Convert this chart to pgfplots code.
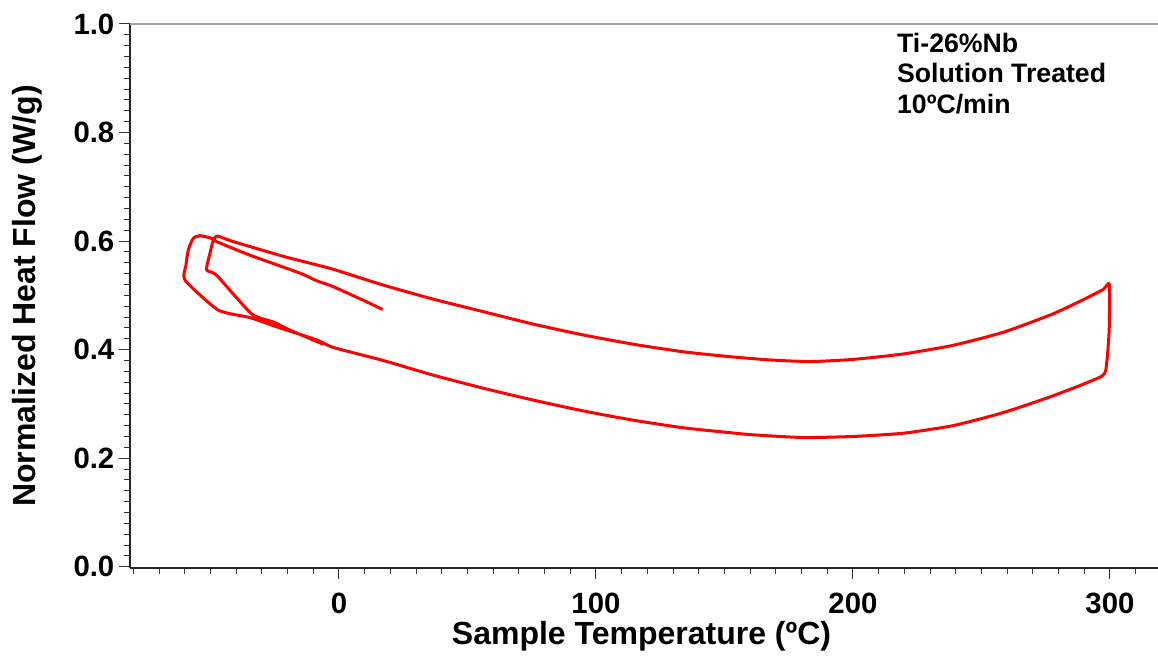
\documentclass[border=0pt]{standalone}
\usepackage{pgfplots}
\pgfplotsset{compat=1.18}
\usepackage{fontspec}
\setmainfont{Liberation Sans}
\begin{document}
\begin{tikzpicture}
\begin{axis}[
  scale only axis, width=771pt, height=408pt,
  xmin=-81.3, xmax=318.7, ymin=-0.0024, ymax=1.0,
  axis lines*=left,
  axis line style={line width=0.9pt, black!85},
  xtick={0,100,200,300},
  ytick={0,0.2,0.4,0.6,0.8,1.0},
  minor xtick={-80,-70,-60,-50,-40,-30,-20,-10,10,20,30,40,50,60,70,80,90,110,120,130,140,150,160,170,180,190,210,220,230,240,250,260,270,280,290,310},
  minor y tick num=9,
  tick align=outside,
  major tick length=8.25pt, minor tick length=4.5pt,
  every tick/.style={black!80, line width=0.75pt},
  yticklabel style={/pgf/number format/.cd, fixed, fixed zerofill, precision=1},
  xticklabel style={yshift=-7pt},
  /pgf/number format/assume math mode=true,
  ticklabel style={font=\fontsize{22}{26}\selectfont\bfseries},
  xlabel={Sample Temperature (ºC)},
  ylabel={Normalized Heat Flow (W/g)},
  label style={font=\fontsize{24}{28}\selectfont\bfseries},
  xlabel style={at={(axis description cs:0.4976,-0.1245)}, anchor=center},
  ylabel style={at={(axis description cs:-0.1002,0.5)}, anchor=center},
]
\addplot[red, line width=2.25pt, line join=round, smooth, tension=0.35] coordinates {
(17.0,0.474) (10.8,0.488) (-2.2,0.516) (-8.7,0.527) (-15.2,0.541) (-34.6,0.574) (-47.6,0.599) (-49.5,0.605) (-54.1,0.610) (-56.7,0.605) (-58.6,0.584) (-59.5,0.556) (-59.9,0.528)
(-47.0,0.473) (-34.6,0.459) (-24.2,0.442) (-8.7,0.418) (-2.2,0.404) (17.2,0.380) (36.7,0.353) (56.1,0.329) (75.6,0.307) (95.1,0.287) (114.5,0.270) (134.0,0.256) (152.1,0.247) (161.2,0.243) (180.7,0.238) (200.1,0.240) (219.6,0.246) (239.0,0.260) (258.5,0.284) (277.9,0.315) (296.8,0.351) (298.7,0.375) (299.7,0.436) (299.8,0.520)
(297.4,0.511) (290.9,0.495) (277.9,0.466) (258.5,0.432) (239.0,0.408) (219.6,0.392) (200.1,0.382) (183.3,0.378) (167.7,0.381) (152.1,0.387) (134.0,0.396) (114.5,0.410) (95.1,0.427) (75.6,0.447) (56.1,0.470) (36.7,0.493) (17.2,0.519) (-2.2,0.548) (-15.2,0.564) (-21.7,0.572) (-41.1,0.599) (-46.3,0.608) (-47.6,0.609) (-48.9,0.602) (-50.2,0.577) (-51.5,0.547)
(-47.6,0.537) (-34.0,0.466) (-25.6,0.451) (-19.1,0.436) (-6.1,0.410)
};
\draw[black!35, line width=1.2pt] (rel axis cs:0,1) -- (rel axis cs:1,1);
\node[anchor=base west, inner sep=0pt, font=\fontsize{20}{23}\selectfont\bfseries] at (axis cs:217.1,0.9484) {Ti-26\%Nb};
\node[anchor=base west, inner sep=0pt, font=\fontsize{20}{23}\selectfont\bfseries] at (axis cs:217.1,0.8913) {Solution Treated};
\node[anchor=base west, inner sep=0pt, font=\fontsize{20}{23}\selectfont\bfseries] at (axis cs:217.1,0.8360) {10ºC/min};
\coordinate (bl) at (rel axis cs:0,0);
\coordinate (tr) at (rel axis cs:1,1);
\end{axis}
\pgfresetboundingbox
\path[use as bounding box] ([shift={(-97.5pt,-70.5pt)}]bl) rectangle ([shift={(0pt,18pt)}]tr);
\end{tikzpicture}
\end{document}
